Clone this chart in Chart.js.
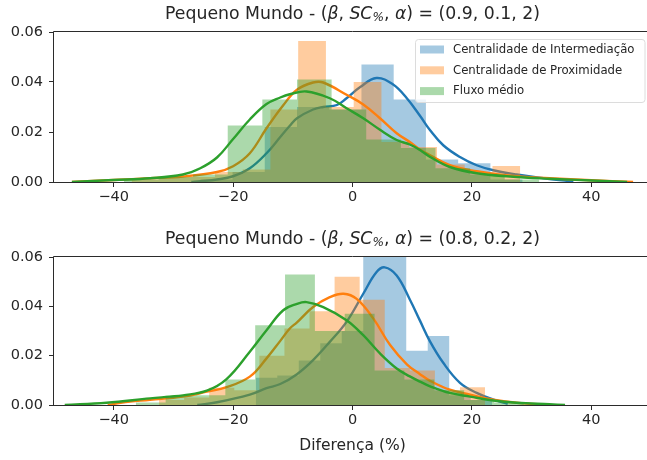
<!DOCTYPE html>
<html>
<head>
<meta charset="utf-8">
<script src="https://cdn.jsdelivr.net/npm/chart.js@4.4.1/dist/chart.umd.min.js"></script>
<style>
  html, body { margin: 0; padding: 0; background: #fff; overflow: hidden; }
  .wrap { position: relative; width: 660px; height: 230px; }
</style>
</head>
<body>
<div class="wrap"><canvas id="topChart" width="660" height="230"></canvas></div>
<div class="wrap"><canvas id="bottomChart" width="660" height="230"></canvas></div>
<script>
const seriesLabels = ["Centralidade de Intermediação", "Centralidade de Proximidade", "Fluxo médio"];
const seriesColors = ["#1f77b4", "#ff7f0e", "#2ca02c"];
const xTicks = [-40, -20, 0, 20, 40];
const yTicks = [0, 0.02, 0.04, 0.06];
const topParams = ["0.9", "0.1", "2"];
const bottomParams = ["0.8", "0.2", "2"];

// top subplot: histogram bins (edges) and densities
const topIntermEdges = [-25.5, -20.1, -14.7, -9.3, -3.9, 1.5, 6.9, 12.3, 17.7, 23.1, 28.5];
const topIntermHeights = [0.001, 0.004, 0.022, 0.030, 0.029, 0.047, 0.033, 0.009, 0.0075, 0.001];
const topProxEdges = [-37.0, -32.35, -27.7, -23.05, -18.4, -13.75, -9.1, -4.45, 0.2, 4.85, 9.5, 14.15, 18.8, 23.45, 28.1];
const topProxHeights = [0.001, 0.002, 0.002, 0.004, 0.005, 0.029, 0.0564, 0.030, 0.040, 0.016, 0.014, 0.007, 0.004, 0.0064];
const topFluxoEdges = [-38.3, -32.5, -26.7, -20.9, -15.1, -9.3, -3.5, 2.3, 8.1, 13.9, 19.7, 25.5, 31.3];
const topFluxoHeights = [0.001, 0.002, 0.003, 0.0226, 0.033, 0.041, 0.029, 0.017, 0.0136, 0.0055, 0.003, 0.001];

// top subplot: kde curves
const topIntermKdeX = [-27, -25.5, -22.7, -20, -17.2, -14.4, -12.1, -10.5, -9.3, -6.6, -4.9, -2.6, -1, 1.3, 4, 6.8, 9.1, 11.3, 13, 15.2, 18, 20.8, 23.6, 27.5, 33, 37];
const topIntermKdeY = [0, 0.0003, 0.001, 0.0023, 0.0055, 0.0115, 0.018, 0.0225, 0.0255, 0.029, 0.030, 0.0308, 0.0335, 0.038, 0.0416, 0.039, 0.0335, 0.0265, 0.0207, 0.0147, 0.010, 0.0067, 0.0047, 0.003, 0.0012, 0.0003];
const topProxKdeX = [-47, -40, -33.9, -28.4, -22.7, -20, -17.2, -14.4, -11.6, -9.3, -6.6, -4.9, -1, 1.8, 4.6, 7.4, 9.6, 11.3, 13, 16.3, 20.8, 26.4, 33, 40, 47];
const topProxKdeY = [0, 0.0008, 0.0015, 0.0022, 0.004, 0.0063, 0.0115, 0.0215, 0.0307, 0.0369, 0.0398, 0.0398, 0.0349, 0.031, 0.0255, 0.0195, 0.016, 0.013, 0.0107, 0.0067, 0.0043, 0.0025, 0.0015, 0.0007, 0];
const topFluxoKdeX = [-47, -40, -33.9, -28.4, -25.5, -22.7, -20, -17.2, -14.4, -12.1, -10.5, -7.7, -3.8, -1, 1.8, 4.6, 7.4, 9.6, 11.3, 13, 16.3, 20.8, 26.4, 33, 40, 46];
const topFluxoKdeY = [0, 0.0008, 0.0015, 0.003, 0.0055, 0.0098, 0.0172, 0.025, 0.0312, 0.0338, 0.0351, 0.0362, 0.0335, 0.0295, 0.0255, 0.0209, 0.0168, 0.015, 0.0128, 0.010, 0.006, 0.0035, 0.0022, 0.0013, 0.0006, 0];

// bottom subplot: histogram bins and densities
const botIntermEdges = [-16.2, -12.6, -9.0, -5.4, -1.8, 1.8, 5.4, 9.0, 12.6, 16.2, 19.8, 23.4];
const botIntermHeights = [0.011, 0.012, 0.018, 0.025, 0.030, 0.062, 0.062, 0.022, 0.028, 0.004, 0.002];
const botProxEdges = [-32.4, -28.2, -24.0, -19.8, -15.6, -11.4, -7.2, -3.0, 1.2, 5.4, 9.6, 13.8, 18.0, 22.2];
const botProxHeights = [0.002, 0.003, 0.007, 0.006, 0.020, 0.031, 0.038, 0.052, 0.0427, 0.015, 0.014, 0.006, 0.0072];
const botFluxoEdges = [-36.3, -31.3, -26.3, -21.3, -16.3, -11.3, -6.3, -1.3, 3.7, 8.7, 13.7, 18.7, 23.7, 28.7];
const botFluxoHeights = [0.001, 0.0038, 0.004, 0.0103, 0.0323, 0.0529, 0.030, 0.037, 0.014, 0.0103, 0.006, 0.002, 0.001];

// bottom subplot: kde curves
const botIntermKdeX = [-26, -22.7, -17.2, -14.4, -12.1, -9.3, -6.6, -3.8, -1, 1.8, 4, 5.4, 7.4, 9.6, 11.3, 13, 15.2, 18, 20.8, 23.6, 26];
const botIntermKdeY = [0, 0.0011, 0.0042, 0.0068, 0.0085, 0.0125, 0.0182, 0.0256, 0.0337, 0.0451, 0.0538, 0.0558, 0.0525, 0.0428, 0.0342, 0.0257, 0.0171, 0.009, 0.0049, 0.0022, 0.0005];
const botProxKdeX = [-41, -38, -33.9, -28.4, -24.4, -21.1, -17.2, -14.4, -12.1, -10.5, -9.3, -6.6, -3.8, -1.5, 0.7, 3.5, 6.3, 9.1, 11.3, 13, 16.3, 19.7, 23.6, 27.5, 33];
const botProxKdeY = [0, 0.0012, 0.0021, 0.0034, 0.0054, 0.0072, 0.0115, 0.0189, 0.026, 0.031, 0.0335, 0.0397, 0.0437, 0.0451, 0.043, 0.035, 0.0243, 0.0165, 0.0125, 0.0098, 0.0062, 0.0042, 0.0022, 0.0009, 0];
const botFluxoKdeX = [-48.2, -41.2, -33.9, -30.6, -28.4, -24.4, -21.1, -17.2, -14.4, -11.6, -9.3, -7.7, -4.9, -1, 1.8, 4.6, 7.4, 9.6, 11.3, 13, 16.3, 19.7, 23.6, 27.5, 33, 35.6];
const botFluxoKdeY = [0, 0.0009, 0.0027, 0.0034, 0.0039, 0.0058, 0.0105, 0.0216, 0.0303, 0.0384, 0.041, 0.0417, 0.0397, 0.0344, 0.0283, 0.0209, 0.0148, 0.0116, 0.0095, 0.0076, 0.0049, 0.0034, 0.0018, 0.0009, 0.0003, 0];

const FONT = "DejaVu Sans";
const TEXT = "#262626";
const SPINE = "#2b2b2b";

function rgba(hex, a) {
  const n = parseInt(hex.slice(1), 16);
  return `rgba(${(n >> 16) & 255},${(n >> 8) & 255},${n & 255},${a})`;
}

function histPoints(edges, heights) {
  const pts = heights.map((h, i) => ({ x: edges[i], y: h }));
  pts.push({ x: edges[edges.length - 1], y: 0 });
  return pts;
}

function curvePoints(xs, ys) {
  return xs.map((x, i) => ({ x, y: ys[i] }));
}

// frame around the axes (drawn above bars like matplotlib spines)
const framePlugin = {
  id: "frame",
  afterDatasetsDraw(chart) {
    const { ctx, chartArea: a } = chart;
    ctx.save();
    ctx.strokeStyle = SPINE;
    ctx.lineWidth = 1;
    ctx.beginPath();
    ctx.moveTo(a.right + 0.5, Math.round(a.top) - 0.5);
    ctx.lineTo(Math.round(a.left) - 0.5, Math.round(a.top) - 0.5);
    ctx.lineTo(Math.round(a.left) - 0.5, Math.round(a.bottom) + 0.5);
    ctx.lineTo(a.right + 0.5, Math.round(a.bottom) + 0.5);
    ctx.stroke();
    ctx.restore();
  },
};

// title with math-style italic pieces
const titlePlugin = {
  id: "mathTitle",
  afterDraw(chart, args, opts) {
    const { ctx, chartArea: a } = chart;
    const size = 17.3;
    const p = opts.params;
    const pieces = [
      { t: "Pequeno Mundo - (", f: `${size}px ${FONT}` },
      { t: "β", f: `italic ${size}px ${FONT}` },
      { t: ", ", f: `${size}px ${FONT}` },
      { t: "SC", f: `italic ${size}px ${FONT}` },
      { t: "%", f: `italic ${size * 0.7}px ${FONT}`, dy: size * 0.22 },
      { t: ", ", f: `${size}px ${FONT}` },
      { t: "α", f: `italic ${size}px ${FONT}` },
      { t: `) = (${p[0]}, ${p[1]}, ${p[2]})`, f: `${size}px ${FONT}` },
    ];
    ctx.save();
    ctx.fillStyle = TEXT;
    ctx.textBaseline = "middle";
    ctx.textAlign = "left";
    let total = 0;
    pieces.forEach((pc) => { ctx.font = pc.f; pc.w = ctx.measureText(pc.t).width; total += pc.w; });
    let x = (a.left + a.right) / 2 - total / 2;
    const y = a.top - 17.5;
    pieces.forEach((pc) => {
      ctx.font = pc.f;
      ctx.fillText(pc.t, x, y + (pc.dy || 0));
      x += pc.w;
    });
    ctx.restore();
  },
};

// legend box in the upper right corner
const legendPlugin = {
  id: "boxLegend",
  afterDraw(chart, args, opts) {
    if (!opts.show) return;
    const { ctx, chartArea: a } = chart;
    const right = a.right - 6.5, top = a.top + 7, left = 415, bottom = a.top + 70;
    ctx.save();
    ctx.beginPath();
    ctx.roundRect(left + 0.5, top + 0.5, right - left, bottom - top, 3);
    ctx.fillStyle = "rgba(255,255,255,0.8)";
    ctx.fill();
    ctx.strokeStyle = "#dcdcdc";
    ctx.lineWidth = 1;
    ctx.stroke();
    ctx.font = `13px 'DejaVu Sans Condensed', ${FONT}`;
    ctx.textBaseline = "middle";
    seriesLabels.forEach((lab, i) => {
      const cy = top + 10.5 + i * 20.8;
      ctx.fillStyle = rgba(seriesColors[i], 0.4);
      ctx.fillRect(420, cy - 4, 24, 8);
      ctx.fillStyle = TEXT;
      ctx.fillText(lab, 453, cy);
    });
    ctx.restore();
  },
};

function makeChart(id, hists, kdes, params, showLegend, padTop, xHeight, xLabel) {
  const datasets = [];
  hists.forEach((h, i) => {
    datasets.push({
      data: histPoints(h[0], h[1]),
      stepped: true,
      fill: "origin",
      backgroundColor: rgba(seriesColors[i], 0.4),
      borderColor: "rgba(0,0,0,0)",
      borderWidth: 0,
      pointRadius: 0,
      clip: 0,
      order: 6 - 2 * i,
    });
    datasets.push({
      data: curvePoints(kdes[i][0], kdes[i][1]),
      fill: false,
      borderColor: seriesColors[i],
      borderWidth: 2.4,
      pointRadius: 0,
      tension: 0.4,
      clip: 0,
      order: 5 - 2 * i,
    });
  });

  return new Chart(document.getElementById(id), {
    type: "line",
    data: { datasets },
    options: {
      responsive: false,
      animation: false,
      layout: { padding: { left: 0, right: 9, top: padTop, bottom: 0 } },
      plugins: {
        legend: { display: false },
        tooltip: { enabled: false },
        mathTitle: { params },
        boxLegend: { show: showLegend },
      },
      scales: {
        x: {
          type: "linear",
          min: -50,
          max: 50,
          afterBuildTicks: (s) => { s.ticks = xTicks.map((v) => ({ value: v })); },
          afterFit: (s) => { s.height = xHeight; },
          ticks: {
            autoSkip: false,
            maxRotation: 0,
            padding: 2,
            color: TEXT,
            font: { family: FONT, size: 14.5 },
            callback: (v) => (v < 0 ? "\u2212" + Math.abs(v) : String(v)),
          },
          grid: { drawOnChartArea: false, tickLength: 5, color: SPINE, lineWidth: 1 },
          border: { display: false },
          title: {
            display: !!xLabel,
            text: xLabel || "",
            color: TEXT,
            font: { family: FONT, size: 15.5 },
            padding: { top: 0, bottom: 5 },
          },
        },
        y: {
          min: 0,
          max: 0.06,
          afterBuildTicks: (s) => { s.ticks = yTicks.map((v) => ({ value: v })); },
          afterFit: (s) => { s.width = 54; },
          ticks: {
            padding: 6,
            color: TEXT,
            font: { family: FONT, size: 14.5 },
            callback: (v) => v.toFixed(2),
          },
          grid: { drawOnChartArea: false, tickLength: 5, color: SPINE, lineWidth: 1 },
          border: { display: false },
        },
      },
    },
    plugins: [framePlugin, titlePlugin, legendPlugin],
  });
}

makeChart(
  "topChart",
  [[topIntermEdges, topIntermHeights], [topProxEdges, topProxHeights], [topFluxoEdges, topFluxoHeights]],
  [[topIntermKdeX, topIntermKdeY], [topProxKdeX, topProxKdeY], [topFluxoKdeX, topFluxoKdeY]],
  topParams, true, 32, 48, null
);

makeChart(
  "bottomChart",
  [[botIntermEdges, botIntermHeights], [botProxEdges, botProxHeights], [botFluxoEdges, botFluxoHeights]],
  [[botIntermKdeX, botIntermKdeY], [botProxKdeX, botProxKdeY], [botFluxoKdeX, botFluxoKdeY]],
  bottomParams, false, 27, 55, "Diferença (%)"
);
</script>
</body>
</html>
